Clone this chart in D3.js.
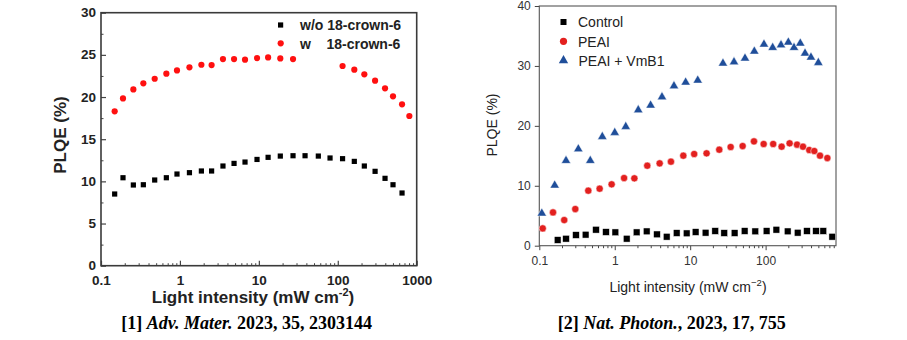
<!DOCTYPE html>
<html>
<head>
<meta charset="utf-8">
<script src="https://cdn.jsdelivr.net/npm/d3@7"></script>
<style>
  body { margin: 0; background: #fff; }
  svg { display: block; }
</style>
</head>
<body>
<svg id="chart" width="907" height="340"></svg>
<script>
// ---- chart [1] : Adv. Mater. ----
const leftX = [0.149, 0.19, 0.257, 0.344, 0.479, 0.673, 0.918, 1.32, 1.87, 2.52, 3.51, 4.85, 6.68, 9.48,
  13.1, 18.7, 27.1, 38.5, 56.7, 79.8, 115, 162, 217, 297, 397, 501, 652, 807];
const leftWo = [8.5, 10.43, 9.57, 9.6, 10.16, 10.43, 10.87, 11.03, 11.23, 11.23, 11.82, 12.13, 12.29, 12.6,
  12.85, 13.0, 13.04, 13.04, 13.0, 12.77, 12.69, 12.37, 11.82, 11.19, 10.36, 9.6, 8.62, null];
const leftW = [18.3, 19.84, 20.9, 21.62, 22.17, 22.77, 23.16, 23.52, 23.83, 23.79, 24.5, 24.5, 24.43, 24.62,
  24.7, 24.58, 24.5, null, null, null, 23.68, 23.24, 22.69, 21.94, 21.03, 20.08, 19.13, 17.75];
const leftYTicks = [0, 5, 10, 15, 20, 25, 30];
const leftXTicks = [0.1, 1, 10, 100, 1000];

// ---- chart [2] : Nat. Photon. ----
const ctrlX = [0.175, 0.226, 0.306, 0.411, 0.564, 0.765, 1.02, 1.44, 1.95, 2.65, 3.63, 4.88, 6.62, 8.98,
  11.8, 16.0, 21.5, 28.3, 38.8, 52.7, 73.0, 103, 139, 196, 266, 353, 466, 582, 766];
const ctrlY = [0.95, 1.17, 1.78, 1.84, 2.67, 2.28, 2.23, 1.17, 2.23, 2.39, 1.89, 1.5, 2.11, 2.06,
  2.28, 2.17, 2.45, 2.11, 2.11, 2.45, 2.39, 2.45, 2.67, 2.39, 2.17, 2.45, 2.45, 2.45, 1.5];
const peaiX = [0.111, 0.152, 0.214, 0.300, 0.446, 0.631, 0.910, 1.33, 1.82, 2.70, 3.94, 5.56, 8.11, 11.3,
  16.5, 24.3, 34.4, 49.6, 70.1, 94.2, 126, 163, 208, 261, 313, 379, 442, 526, 658];
const peaiY = [2.89, 5.56, 4.28, 6.12, 9.18, 9.51, 10.24, 11.29, 11.24, 13.35, 13.74, 14.02, 15.02, 15.3,
  15.41, 16.02, 16.47, 16.63, 17.41, 16.97, 16.97, 16.52, 17.08, 16.86, 16.52, 15.97, 15.8, 15.02, 14.63];
const vmbX = [0.108, 0.16, 0.226, 0.329, 0.474, 0.684, 1.0, 1.40, 2.05, 2.99, 4.23, 6.10, 8.71, 12.6,
  27.2, 38.1, 53.3, 70.8, 95.1, 124, 160, 200, 238, 288, 333, 399, 500];
const vmbY = [5.4, 10.07, 14.19, 16.13, 14.19, 18.19, 18.86, 19.86, 22.64, 23.42, 24.81, 26.65, 27.26, 27.59,
  30.43, 30.65, 31.27, 32.43, 33.6, 33.05, 33.49, 33.94, 33.05, 33.77, 32.1, 31.43, 30.54];
const rightYTicks = [0, 10, 20, 30, 40];
const rightXTicks = [0.1, 1, 10, 100];

const svg = d3.select('#chart');

// minor ticks for a log axis: 2..9 in each decade
function logMinor(lo, hi) {
  const out = [];
  for (let e = Math.floor(Math.log10(lo)); e <= Math.ceil(Math.log10(hi)); e++) {
    for (let m = 2; m <= 9; m++) {
      const v = m * Math.pow(10, e);
      if (v > lo && v < hi) out.push(v);
    }
  }
  return out;
}

function fmtX(d) { return d < 1 ? '0.1' : String(d); }

// ================= chart [1] =================
{
  const x = d3.scaleLog().domain([0.1, 1000]).range([101, 416.7]);
  const y = d3.scaleLinear().domain([0, 30]).range([265.7, 12.7]);
  const g = svg.append('g').attr('class', 'left');
  const font = '"Liberation Sans", Arial, sans-serif';

  // minor ticks (inside)
  g.append('g').attr('transform', `translate(0,${y(0)})`)
    .call(d3.axisBottom(x).tickValues(logMinor(0.1, 1000)).tickSize(-2.5).tickFormat(''))
    .call(a => a.select('.domain').remove());
  g.append('g').attr('transform', `translate(${x(0.1)},0)`)
    .call(d3.axisLeft(y).tickValues([2.5, 7.5, 12.5, 17.5, 22.5, 27.5]).tickSize(-2.5).tickFormat(''))
    .call(a => a.select('.domain').remove());

  const xa = g.append('g').attr('transform', `translate(0,${y(0)})`)
    .call(d3.axisBottom(x).tickValues(leftXTicks).tickSize(-5).tickPadding(9.5).tickFormat(fmtX));
  const ya = g.append('g').attr('transform', `translate(${x(0.1)},0)`)
    .call(d3.axisLeft(y).tickValues(leftYTicks).tickSize(-5).tickPadding(5));
  [xa, ya].forEach(a => {
    a.selectAll('text').attr('font-family', font).attr('font-weight', 'bold')
      .attr('font-size', 13.5).attr('fill', '#222');
    a.selectAll('.tick line').attr('stroke', '#444').attr('stroke-width', 1.2);
    a.select('.domain').remove();
  });
  ya.selectAll('text').attr('dy', '0.3em');
  g.selectAll('.tick line').attr('stroke', '#444');

  // frame
  g.append('rect').attr('x', x(0.1)).attr('y', y(30))
    .attr('width', x(1000) - x(0.1)).attr('height', y(0) - y(30))
    .attr('fill', 'none').attr('stroke', '#3a3a3a').attr('stroke-width', 1.6);

  // points
  g.append('g').selectAll('rect')
    .data(leftX.map((v, i) => [v, leftWo[i]]).filter(d => d[1] != null))
    .join('rect')
    .attr('x', d => x(d[0]) - 2.6).attr('y', d => y(d[1]) - 2.6)
    .attr('width', 5.2).attr('height', 5.2).attr('fill', '#000');
  g.append('g').selectAll('circle')
    .data(leftX.map((v, i) => [v, leftW[i]]).filter(d => d[1] != null))
    .join('circle')
    .attr('cx', d => x(d[0])).attr('cy', d => y(d[1])).attr('r', 3.1).attr('fill', '#ff1010');

  // legend
  const lg = g.append('g').attr('font-family', font).attr('font-weight', 'bold').attr('font-size', 14).attr('fill', '#222');
  lg.append('rect').attr('x', 278).attr('y', 22.4).attr('width', 5.2).attr('height', 5.2).attr('fill', '#000');
  lg.append('text').attr('x', 300).attr('y', 30).text('w/o 18-crown-6');
  lg.append('circle').attr('cx', 280.7).attr('cy', 43.3).attr('r', 3.1).attr('fill', '#ff1010');
  lg.append('text').attr('x', 300).attr('y', 48.5).attr('xml:space', 'preserve').text('w    18-crown-6');

  // axis titles
  g.append('text').attr('transform', 'translate(66,135) rotate(-90)')
    .attr('text-anchor', 'middle').attr('font-family', font).attr('font-weight', 'bold')
    .attr('font-size', 17).attr('fill', '#222').text('PLQE (%)');
  const xt = g.append('text').attr('x', 253).attr('y', 303)
    .attr('text-anchor', 'middle').attr('font-family', font).attr('font-weight', 'bold')
    .attr('font-size', 17).attr('fill', '#222');
  xt.append('tspan').text('Light intensity (mW cm');
  xt.append('tspan').attr('font-size', 11).attr('dy', -7).text('-2');
  xt.append('tspan').attr('dy', 7).text(')');

  // caption
  const cap = g.append('text').attr('x', 246.7).attr('y', 329)
    .attr('text-anchor', 'middle').attr('font-family', '"Liberation Serif", "Times New Roman", serif')
    .attr('font-weight', 'bold').attr('font-size', 18).attr('fill', '#000');
  cap.append('tspan').text('[1] ');
  cap.append('tspan').attr('font-style', 'italic').text('Adv. Mater.');
  cap.append('tspan').text(' 2023, 35, 2303144');
}

// ================= chart [2] =================
{
  const x = d3.scaleLog().domain([0.1, 857]).range([539.3, 836]);
  const y = d3.scaleLinear().domain([0, 40]).range([245.7, 6]);
  const g = svg.append('g').attr('class', 'right');
  const font = '"Liberation Sans", Arial, sans-serif';

  g.append('g').attr('transform', `translate(0,${y(0)})`)
    .call(d3.axisBottom(x).tickValues(logMinor(0.1, 857)).tickSize(2.5).tickFormat(''))
    .call(a => a.select('.domain').remove());

  const xa = g.append('g').attr('transform', `translate(0,${y(0)})`)
    .call(d3.axisBottom(x).tickValues(rightXTicks).tickSize(4.5).tickPadding(6).tickFormat(fmtX));
  const ya = g.append('g').attr('transform', `translate(${x(0.1)},0)`)
    .call(d3.axisLeft(y).tickValues(rightYTicks).tickSize(4.5).tickPadding(4));
  [xa, ya].forEach(a => {
    a.selectAll('text').attr('font-family', font).attr('font-size', 12).attr('fill', '#333');
    a.select('.domain').remove();
  });
  g.selectAll('.tick line').attr('stroke', '#444');

  g.append('rect').attr('x', x(0.1)).attr('y', y(40))
    .attr('width', x(857) - x(0.1)).attr('height', y(0) - y(40))
    .attr('fill', 'none').attr('stroke', '#555').attr('stroke-width', 1.1);

  const red = '#e3201f', blue = '#1f4e9a';
  const tri = d3.symbol().type(d3.symbolTriangle).size(38);

  g.append('g').selectAll('path')
    .data(vmbX.map((v, i) => [v, vmbY[i]]))
    .join('path')
    .attr('transform', d => `translate(${x(d[0])},${y(d[1])})`)
    .attr('d', tri).attr('fill', blue).attr('stroke', '#fff').attr('stroke-width', 0.5);
  g.append('g').selectAll('circle')
    .data(peaiX.map((v, i) => [v, peaiY[i]]))
    .join('circle')
    .attr('cx', d => x(d[0])).attr('cy', d => y(d[1])).attr('r', 3.6)
    .attr('fill', red).attr('stroke', '#fff').attr('stroke-width', 0.5);
  g.append('g').selectAll('rect')
    .data(ctrlX.map((v, i) => [v, ctrlY[i]]))
    .join('rect')
    .attr('x', d => x(d[0]) - 3.4).attr('y', d => y(d[1]) - 3.4)
    .attr('width', 6.8).attr('height', 6.8).attr('fill', '#000').attr('stroke', '#fff').attr('stroke-width', 0.5);

  // legend
  const lg = g.append('g').attr('font-family', font).attr('font-size', 14).attr('fill', '#222');
  lg.append('rect').attr('x', 560.5).attr('y', 19).attr('width', 6).attr('height', 6).attr('fill', '#000');
  lg.append('text').attr('x', 578).attr('y', 27).text('Control');
  lg.append('circle').attr('cx', 563.5).attr('cy', 41.3).attr('r', 3.6).attr('fill', red);
  lg.append('text').attr('x', 578).attr('y', 46.5).text('PEAI');
  lg.append('path').attr('transform', 'translate(563.5,60.5)').attr('d', tri).attr('fill', blue);
  lg.append('text').attr('x', 578.5).attr('y', 66).text('PEAI + VmB1');

  g.append('text').attr('transform', 'translate(497,125) rotate(-90)')
    .attr('text-anchor', 'middle').attr('font-family', font)
    .attr('font-size', 14).attr('fill', '#222').text('PLQE (%)');
  const xt = g.append('text').attr('x', 688).attr('y', 292)
    .attr('text-anchor', 'middle').attr('font-family', font)
    .attr('font-size', 14).attr('fill', '#222');
  xt.append('tspan').text('Light intensity (mW cm');
  xt.append('tspan').attr('font-size', 9.5).attr('dy', -6).text('\u22122');
  xt.append('tspan').attr('dy', 6).text(')');

  const cap = g.append('text').attr('x', 671.7).attr('y', 329)
    .attr('text-anchor', 'middle').attr('font-family', '"Liberation Serif", "Times New Roman", serif')
    .attr('font-weight', 'bold').attr('font-size', 18).attr('fill', '#000');
  cap.append('tspan').text('[2] ');
  cap.append('tspan').attr('font-style', 'italic').text('Nat. Photon.');
  cap.append('tspan').text(', 2023, 17, 755');
}
</script>
</body>
</html>
